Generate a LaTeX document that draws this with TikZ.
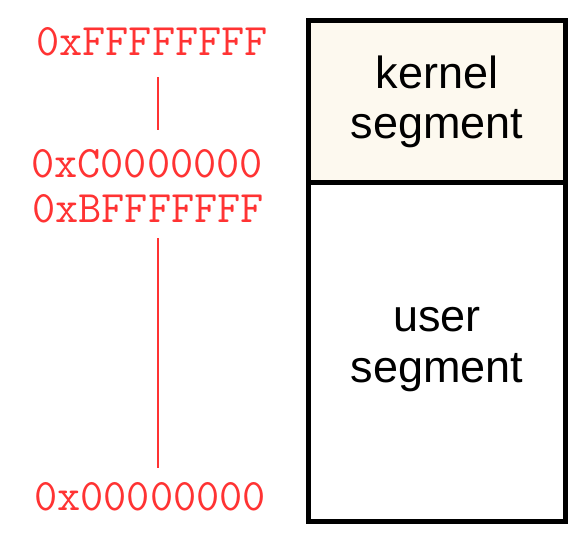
\documentclass[tikz,border=0pt]{standalone}
\usepackage{fontspec}
\setmainfont{Liberation Sans}
\definecolor{addrred}{RGB}{255,51,51}
\definecolor{kernfill}{RGB}{253,249,239}
\begin{document}
\begin{tikzpicture}[x=1pt,y=-1pt,
  addr/.style={font=\ttfamily\fontsize{45}{45}\selectfont, text=addrred, anchor=base, inner sep=0pt},
  seglabel/.style={font=\fontsize{45}{50}\selectfont, align=center, anchor=base, inner sep=0pt},
  segbox/.style={draw=black, line width=5pt},
  addrline/.style={draw=addrred, line width=2pt}]
\useasboundingbox (0,0) rectangle (575,544);
% boxes
\path[segbox, fill=kernfill] (308.5,20.5) rectangle (565.5,182.5);
\path[segbox, fill=white] (308.5,182.5) rectangle (565.5,521.5);
\node[seglabel] (kern1) at (437,88) {kernel};
\node[seglabel] (kern2) at (437,138) {segment};
\node[seglabel] (user1) at (437,331) {user};
\node[seglabel] (user2) at (437,382) {segment};
% addresses
\node[addr] (aFFFF) at (152,55) {0xFFFFFFFF};
\node[addr] (aC000) at (147,177) {0xC0000000};
\node[addr] (aBFFF) at (148,222) {0xBFFFFFFF};
\node[addr] (a0000) at (150,510) {0x00000000};
\coordinate (l1a) at (158,77);
\coordinate (l1b) at (158,130);
\coordinate (l2a) at (158,238);
\coordinate (l2b) at (158,468);
\draw[addrline] (l1a) -- (l1b);
\draw[addrline] (l2a) -- (l2b);
\end{tikzpicture}
\end{document}
